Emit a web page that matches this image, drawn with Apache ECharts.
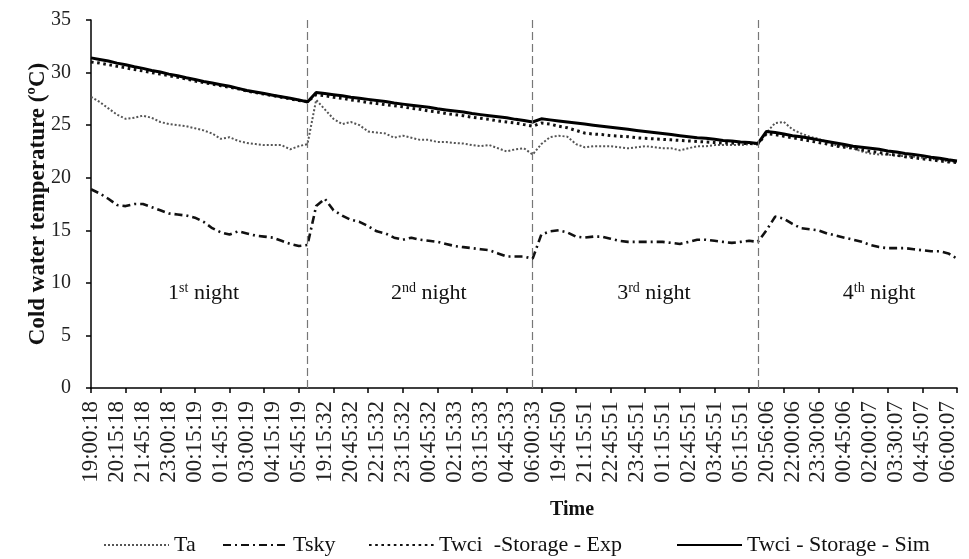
<!DOCTYPE html>
<html>
<head>
<meta charset="utf-8">
<script src="https://cdn.jsdelivr.net/npm/echarts@6/dist/echarts.min.js"></script>
<style>
    html, body { margin: 0; padding: 0; background: #fff; }
    #chart { width: 969px; height: 559px; }
</style>
</head>
<body>
<div id="chart"></div>
<script>
// time stamps of the logged points (every 3rd one is printed on the axis)
var times = [
    '19:00:18', '19:25:18', '19:50:18', '20:15:18', '20:45:18', '21:15:18', '21:45:18', '22:10:18', '22:35:18',
    '23:00:18', '23:25:18', '23:50:18', '00:15:19', '00:45:19', '01:15:19', '01:45:19', '02:10:19', '02:35:19',
    '03:00:19', '03:25:19', '03:50:19', '04:15:19', '04:45:19', '05:15:19', '05:45:19', '06:00:19',
    '18:45:32', '19:15:32', '19:45:32', '20:15:32', '20:45:32', '21:15:32', '21:45:32', '22:15:32', '22:35:32',
    '22:55:32', '23:15:32', '23:45:32', '00:15:32', '00:45:32', '01:15:32', '01:45:33', '02:15:33', '02:35:33',
    '02:55:33', '03:15:33', '03:45:33', '04:15:33', '04:45:33', '05:10:33', '05:35:33', '06:00:33',
    '18:45:50', '19:15:50', '19:45:50', '20:15:51', '20:45:51', '21:15:51', '21:45:51', '22:15:51', '22:45:51',
    '23:05:51', '23:25:51', '23:45:51', '00:15:51', '00:45:51', '01:15:51', '01:45:51', '02:15:51', '02:45:51',
    '03:05:51', '03:25:51', '03:45:51', '04:15:51', '04:45:51', '05:15:51', '05:40:51', '06:00:51',
    '20:56:06', '21:17:06', '21:38:06', '22:00:06', '22:30:06', '23:00:06', '23:30:06', '23:55:06', '00:20:06',
    '00:45:06', '01:10:07', '01:35:07', '02:00:07', '02:30:07', '03:00:07', '03:30:07', '03:55:07', '04:20:07',
    '04:45:07', '05:10:07', '05:35:07', '06:00:07', '06:25:07'
];

var ta = [
    27.7, 27.2, 26.6, 26.0, 25.6, 25.7, 25.9, 25.7, 25.3, 25.1, 25.0, 24.9, 24.7, 24.5, 24.2, 23.7, 23.85, 23.5, 23.3, 23.2, 23.1, 23.1, 23.1, 22.7, 23.0, 23.2,
    27.4, 26.5, 25.6, 25.1, 25.3, 25.0, 24.4, 24.3, 24.2, 23.8, 24.0, 23.8, 23.6, 23.6, 23.4, 23.4, 23.3, 23.25, 23.1, 23.0, 23.1, 22.8, 22.5, 22.7, 22.8, 22.2,
    23.2, 23.85, 24.0, 23.9, 23.2, 22.9, 23.0, 23.0, 23.0, 22.9, 22.8, 22.9, 23.0, 22.9, 22.8, 22.8, 22.6, 22.8, 23.0, 23.0, 23.1, 23.1, 23.1, 23.1, 23.2, 23.2,
    24.3, 25.2, 25.3, 24.6, 24.2, 23.9, 23.7, 23.4, 23.1, 23.0, 22.8, 22.5, 22.3, 22.2, 22.2, 22.1, 22.05, 22.0, 21.9, 21.8, 21.7, 21.55, 21.5
];

var tsky = [
    18.9, 18.5, 18.0, 17.4, 17.3, 17.5, 17.5, 17.2, 16.9, 16.6, 16.5, 16.4, 16.2, 15.8, 15.2, 14.8, 14.6, 14.9, 14.7, 14.5, 14.4, 14.3, 14.0, 13.7, 13.5, 13.6,
    17.3, 18.0, 16.9, 16.4, 16.0, 15.8, 15.4, 14.9, 14.7, 14.3, 14.1, 14.3, 14.1, 14.0, 13.9, 13.7, 13.5, 13.4, 13.3, 13.2, 13.1, 12.8, 12.5, 12.5, 12.5, 12.3,
    14.6, 14.9, 15.0, 14.8, 14.4, 14.3, 14.4, 14.4, 14.2, 14.0, 13.9, 13.9, 13.9, 13.9, 13.9, 13.8, 13.7, 13.9, 14.1, 14.1, 14.0, 13.9, 13.8, 13.9, 14.0, 13.9,
    15.0, 16.3, 16.1, 15.6, 15.2, 15.1, 15.0, 14.7, 14.5, 14.3, 14.1, 13.9, 13.6, 13.4, 13.3, 13.3, 13.3, 13.2, 13.1, 13.0, 13.0, 12.8, 12.3
];

var twciExp = [
    31.0, 30.9, 30.75, 30.6, 30.45, 30.3, 30.15, 30.0, 29.85, 29.7, 29.55, 29.4, 29.2, 29.05, 28.9, 28.75, 28.6, 28.45, 28.25, 28.1, 27.95, 27.8, 27.65, 27.5, 27.35, 27.25,
    27.9, 27.8, 27.65, 27.55, 27.4, 27.3, 27.15, 27.05, 26.95, 26.85, 26.75, 26.6, 26.5, 26.35, 26.25, 26.1, 26.0, 25.9, 25.75, 25.65, 25.55, 25.4, 25.3, 25.2, 25.05, 24.9,
    25.2, 25.1, 24.9, 24.75, 24.5, 24.25, 24.15, 24.1, 24.0, 23.95, 23.9, 23.8, 23.75, 23.7, 23.65, 23.6, 23.55, 23.5, 23.45, 23.4, 23.35, 23.3, 23.3, 23.25, 23.25, 23.2,
    24.2, 24.1, 23.95, 23.8, 23.65, 23.5, 23.35, 23.2, 23.0, 22.9, 22.8, 22.65, 22.5, 22.4, 22.25, 22.15, 22.0, 21.9, 21.8, 21.7, 21.6, 21.5, 21.45
];

var twciSim = [
    31.4, 31.25, 31.1, 30.9, 30.75, 30.55, 30.4, 30.2, 30.05, 29.85, 29.7, 29.5, 29.35, 29.15, 29.0, 28.85, 28.7, 28.5, 28.3, 28.15, 28.0, 27.85, 27.7, 27.55, 27.4, 27.2,
    28.1, 28.0, 27.9, 27.8, 27.65, 27.55, 27.45, 27.35, 27.25, 27.1, 27.0, 26.9, 26.8, 26.7, 26.55, 26.45, 26.35, 26.25, 26.1, 26.0, 25.9, 25.8, 25.7, 25.55, 25.45, 25.3,
    25.6, 25.5, 25.4, 25.3, 25.2, 25.1, 25.0, 24.9, 24.8, 24.7, 24.6, 24.5, 24.4, 24.3, 24.2, 24.1, 24.0, 23.9, 23.8, 23.75, 23.65, 23.55, 23.5, 23.4, 23.35, 23.25,
    24.4, 24.3, 24.15, 24.0, 23.9, 23.75, 23.6, 23.45, 23.3, 23.15, 23.0, 22.9, 22.8, 22.7, 22.55, 22.45, 22.3, 22.2, 22.1, 21.95, 21.85, 21.7, 21.6
];

// last point of each night (dashed separators) and where the night captions sit
var nightEnds = [25, 51, 77];
var nightNum = ['1', '2', '3', '4'];
var nightSup = ['st', 'nd', 'rd', 'th'];
var nightCaptionAt = [13, 39, 65, 91];
var nightCaptionY = 9;

var serif = 'Liberation Serif';

var separators = nightEnds.map(function (i) {
    return [{ coord: [i, 0] }, { coord: [i, 35] }];
});

var captions = nightNum.map(function (n, k) {
    return {
        coord: [nightCaptionAt[k], nightCaptionY],
        label: { formatter: '{n|' + n + '}{s|' + nightSup[k] + '}{n| night}' }
    };
});

var names = ['Ta', 'Tsky', 'Twci  -Storage - Exp', 'Twci - Storage - Sim'];
var legendLeft = [103, 222, 368, 676];

var chart = echarts.init(document.getElementById('chart'));

var option = {
    animation: false,
    backgroundColor: '#fff',
    textStyle: { fontFamily: serif },
    title: {
        text: 'Time',
        left: 545,
        top: 495,
        textStyle: { fontFamily: serif, fontSize: 20, fontWeight: 'bold', color: '#111' }
    },
    legend: names.map(function (n, k) {
        return {
            data: [n],
            left: legendLeft[k],
            top: 534,
            padding: 0,
            itemWidth: 65,
            itemHeight: 12,
            itemStyle: { opacity: 0, borderWidth: 0 },
            textStyle: { fontFamily: serif, fontSize: 22, color: '#111' }
        };
    }),
    grid: { left: 91, right: 12, top: 20, bottom: 171 },
    xAxis: {
        type: 'category',
        data: times,
        boundaryGap: false,
        axisLine: { lineStyle: { color: '#000', width: 1.5 } },
        axisTick: { interval: 3, length: 5, lineStyle: { color: '#000', width: 1.5 } },
        axisLabel: {
            interval: 2,
            rotate: 90,
            margin: 13,
            fontFamily: serif,
            fontSize: 23,
            color: '#222'
        },
        splitLine: { show: false }
    },
    yAxis: {
        type: 'value',
        min: 0,
        max: 35,
        interval: 5,
        name: 'Cold water temperature (ºC)',
        nameLocation: 'middle',
        nameGap: 41,
        nameMoveOverlap: false,
        nameTextStyle: { fontFamily: serif, fontSize: 23, fontWeight: 'bold', color: '#111' },
        axisLine: { show: true, lineStyle: { color: '#000', width: 1.5 } },
        axisTick: { show: true, length: 5, lineStyle: { color: '#000', width: 1.5 } },
        axisLabel: { margin: 20, fontFamily: serif, fontSize: 20, color: '#222' },
        splitLine: { show: false }
    },
    series: [
        {
            name: names[0],
            type: 'line',
            data: ta,
            symbol: 'none',
            lineStyle: { color: '#555', width: 2, type: [2, 2] },
            itemStyle: { color: '#555' },
            markLine: {
                silent: true,
                symbol: ['none', 'none'],
                label: { show: false },
                lineStyle: { color: '#777', width: 1.2, type: [8, 4] },
                data: separators
            }
        },
        {
            name: names[1],
            type: 'line',
            data: tsky,
            symbol: 'none',
            lineStyle: { color: '#111', width: 2.6, type: [8, 4, 2, 4] },
            itemStyle: { color: '#111' }
        },
        {
            name: names[2],
            type: 'line',
            data: twciExp,
            symbol: 'none',
            lineStyle: { color: '#111', width: 3, type: [2.6, 3.6] },
            itemStyle: { color: '#111' }
        },
        {
            name: names[3],
            type: 'line',
            data: twciSim,
            symbol: 'none',
            lineStyle: { color: '#000', width: 3 },
            itemStyle: { color: '#000' },
            markPoint: {
                silent: true,
                symbol: 'circle',
                symbolSize: 0,
                label: {
                    show: true,
                    position: 'inside',
                    color: '#111',
                    rich: {
                        n: { fontFamily: serif, fontSize: 22, color: '#111', lineHeight: 24 },
                        s: { fontFamily: serif, fontSize: 14, color: '#111', lineHeight: 24, verticalAlign: 'top' }
                    }
                },
                data: captions
            }
        }
    ]
};

chart.setOption(option);
</script>
</body>
</html>
